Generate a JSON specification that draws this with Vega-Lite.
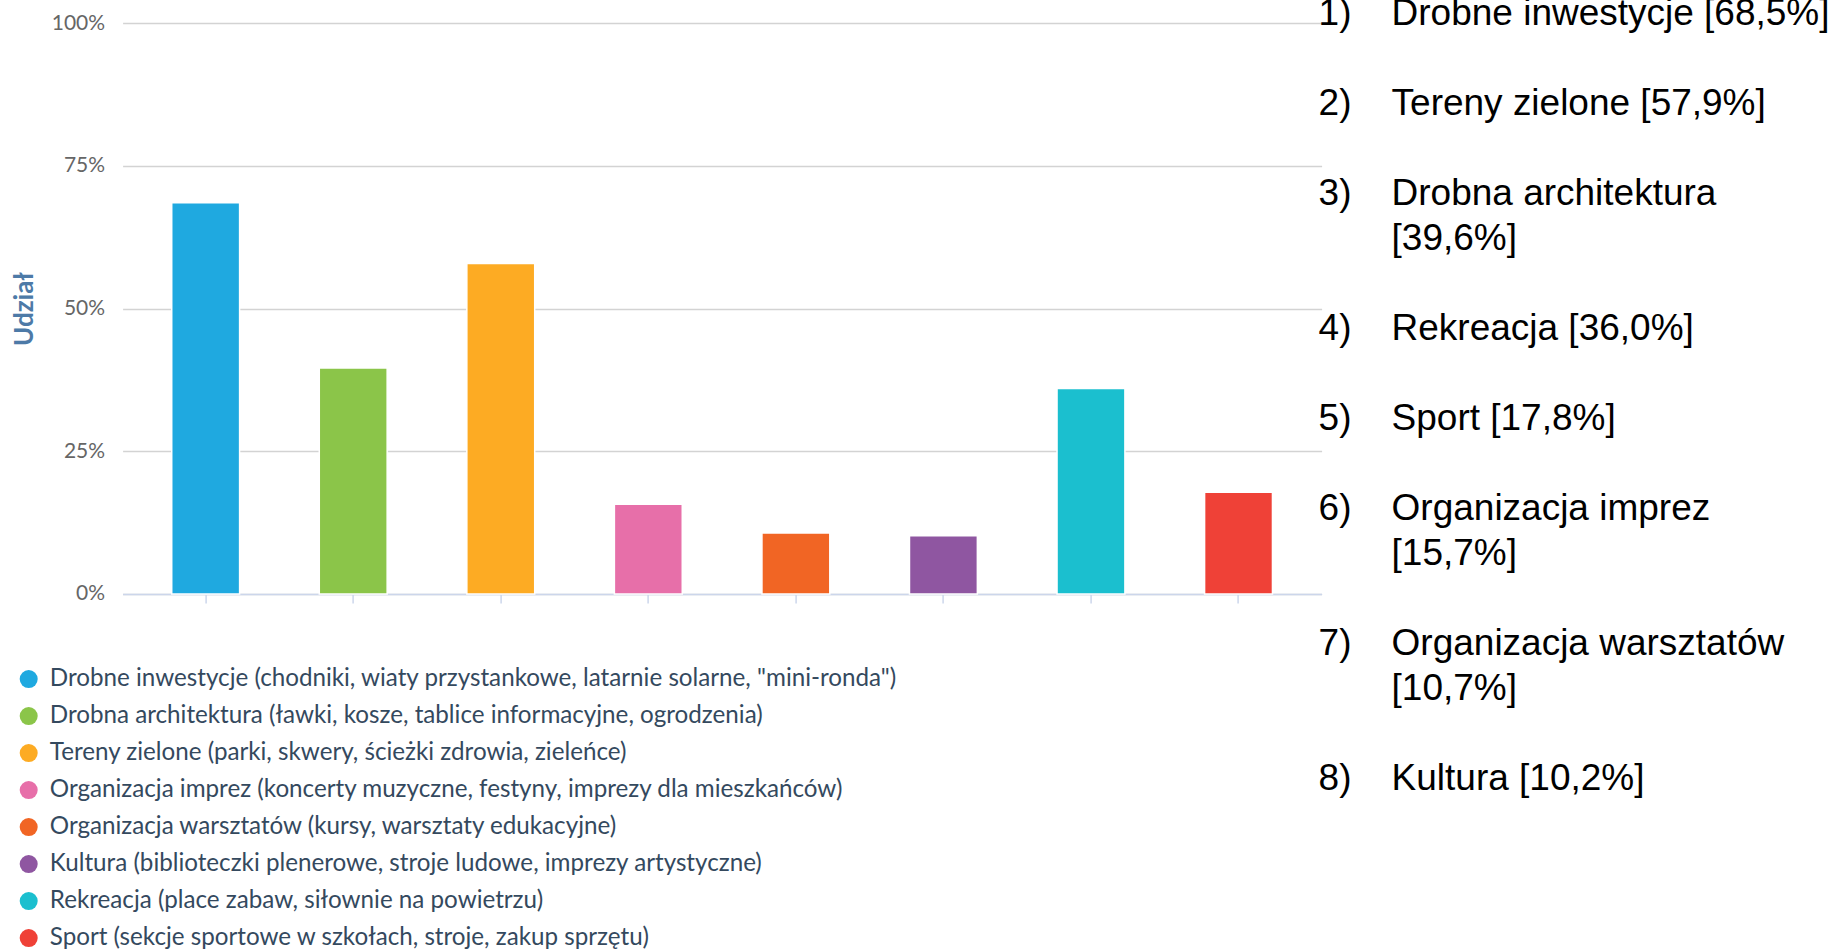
{
  "$schema": "https://vega.github.io/schema/vega-lite/v6.json",
  "padding": {"left": 10.6, "top": -5, "right": 0, "bottom": 0},
  "background": "white",
  "spacing": 0,
  "bounds": "flush",
  "config": {"view": {"stroke": null}},
  "resolve": {"scale": {"color": "independent", "x": "independent", "y": "independent"}, "legend": {"color": "independent"}},
  "hconcat": [
    {
      "width": 1199,
      "height": 571,
      "data": {"values": [
        {"kategoria": "Drobne inwestycje (chodniki, wiaty przystankowe, latarnie solarne, \"mini-ronda\")", "udzial": 68.5},
        {"kategoria": "Drobna architektura (ławki, kosze, tablice informacyjne, ogrodzenia)", "udzial": 39.6},
        {"kategoria": "Tereny zielone (parki, skwery, ścieżki zdrowia, zieleńce)", "udzial": 57.9},
        {"kategoria": "Organizacja imprez (koncerty muzyczne, festyny, imprezy dla mieszkańców)", "udzial": 15.7},
        {"kategoria": "Organizacja warsztatów (kursy, warsztaty edukacyjne)", "udzial": 10.7},
        {"kategoria": "Kultura (biblioteczki plenerowe, stroje ludowe, imprezy artystyczne)", "udzial": 10.2},
        {"kategoria": "Rekreacja (place zabaw, siłownie na powietrzu)", "udzial": 36.0},
        {"kategoria": "Sport (sekcje sportowe w szkołach, stroje, zakup sprzętu)", "udzial": 17.8}
      ]},
      "mark": {"type": "bar", "stroke": "white", "strokeWidth": 1.5},
      "encoding": {
        "x": {
          "field": "kategoria", "type": "nominal", "sort": null,
          "scale": {"paddingInner": 0.54, "paddingOuter": 0.333},
          "axis": {"labels": false, "title": null, "grid": false, "domainColor": "#ccd6eb", "domainWidth": 1.5, "tickColor": "#ccd6eb", "tickWidth": 1.5, "tickSize": 9}
        },
        "y": {
          "field": "udzial", "type": "quantitative",
          "scale": {"domain": [0, 100], "nice": false},
          "axis": {
            "values": [0, 25, 50, 75, 100],
            "labelExpr": "datum.value + '%'",
            "title": "Udział",
            "titleFont": "Lato", "titleFontSize": 26, "titleFontWeight": "bold", "titleColor": "#4d7aa7", "titlePadding": 14,
            "labelFont": "Lato", "labelFontSize": 21, "labelColor": "#666666", "labelPadding": 18,
            "ticks": false, "tickSize": 0, "domain": false,
            "gridColor": "#d3d3d3", "gridWidth": 1.5
          }
        },
        "color": {
          "field": "kategoria", "type": "nominal",
          "scale": {
            "domain": [
              "Drobne inwestycje (chodniki, wiaty przystankowe, latarnie solarne, \"mini-ronda\")",
              "Drobna architektura (ławki, kosze, tablice informacyjne, ogrodzenia)",
              "Tereny zielone (parki, skwery, ścieżki zdrowia, zieleńce)",
              "Organizacja imprez (koncerty muzyczne, festyny, imprezy dla mieszkańców)",
              "Organizacja warsztatów (kursy, warsztaty edukacyjne)",
              "Kultura (biblioteczki plenerowe, stroje ludowe, imprezy artystyczne)",
              "Rekreacja (place zabaw, siłownie na powietrzu)",
              "Sport (sekcje sportowe w szkołach, stroje, zakup sprzętu)"
            ],
            "range": ["#1fa9e0", "#8bc549", "#fdab23", "#e76fa9", "#f16524", "#8f56a1", "#1bbfcf", "#ef4137"]
          },
          "legend": {
            "title": null, "orient": "none", "legendX": -106, "legendY": 644,
            "symbolType": "circle", "symbolSize": 324, "symbolStrokeWidth": 0,
            "labelFont": "Lato", "labelFontSize": 24.2, "labelColor": "#34495e",
            "labelOffset": 9, "labelLimit": 2000, "rowPadding": 12, "padding": 0
          }
        }
      }
    },
    {
      "width": 70,
      "height": 765,
      "data": {"values": [
        {"linia": 0, "nr": "1)", "tekst": "Drobne inwestycje [68,5%]"},
        {"linia": 2, "nr": "2)", "tekst": "Tereny zielone [57,9%]"},
        {"linia": 4, "nr": "3)", "tekst": "Drobna architektura"},
        {"linia": 5, "nr": "", "tekst": "[39,6%]"},
        {"linia": 7, "nr": "4)", "tekst": "Rekreacja [36,0%]"},
        {"linia": 9, "nr": "5)", "tekst": "Sport [17,8%]"},
        {"linia": 11, "nr": "6)", "tekst": "Organizacja imprez"},
        {"linia": 12, "nr": "", "tekst": "[15,7%]"},
        {"linia": 14, "nr": "7)", "tekst": "Organizacja warsztatów"},
        {"linia": 15, "nr": "", "tekst": "[10,7%]"},
        {"linia": 17, "nr": "8)", "tekst": "Kultura [10,2%]"}
      ]},
      "layer": [
        {
          "mark": {"type": "text", "font": "Liberation Sans", "fontSize": 37, "color": "black", "align": "left", "baseline": "alphabetic", "dy": 2},
          "encoding": {
            "x": {"datum": 0, "type": "quantitative", "scale": {"domain": [0.041, 1], "nice": false, "zero": false}, "axis": null},
            "y": {"field": "linia", "type": "quantitative", "scale": {"domain": [0, 17], "reverse": true, "nice": false}, "axis": null},
            "text": {"field": "nr"}
          }
        },
        {
          "mark": {"type": "text", "font": "Liberation Sans", "fontSize": 37, "color": "black", "align": "left", "baseline": "alphabetic", "dy": 2},
          "encoding": {
            "x": {"datum": 1, "type": "quantitative"},
            "y": {"field": "linia", "type": "quantitative"},
            "text": {"field": "tekst"}
          }
        }
      ]
    }
  ]
}
